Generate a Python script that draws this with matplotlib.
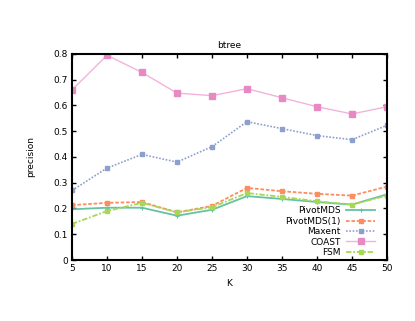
import matplotlib
matplotlib.use("Agg")
import matplotlib.pyplot as plt

K = [5, 10, 15, 20, 25, 30, 35, 40, 45, 50]

pivotmds = [0.197, 0.203, 0.203, 0.172, 0.195, 0.248, 0.237, 0.225, 0.215, 0.255]
pivotmds1 = [0.213, 0.222, 0.225, 0.185, 0.210, 0.280, 0.267, 0.257, 0.250, 0.285]
maxent = [0.270, 0.357, 0.410, 0.380, 0.440, 0.537, 0.510, 0.483, 0.467, 0.523]
coast = [0.660, 0.795, 0.728, 0.648, 0.638, 0.665, 0.630, 0.595, 0.567, 0.595]
fsm = [0.140, 0.190, 0.222, 0.185, 0.205, 0.260, 0.245, 0.228, 0.215, 0.250]

plt.rcParams['font.family'] = ['DejaVu Sans']
plt.rcParams['font.size'] = 6.5

fig = plt.figure(figsize=(4.15, 3.21), dpi=100)
ax = fig.add_axes([0.1735, 0.19, 0.759, 0.642])

ax.plot(K, pivotmds, color="#66c2a5", lw=1.3, ls="-", marker="+", ms=3, mew=0.8, label="PivotMDS")
ax.plot(K, pivotmds1, color="#fc8d62", lw=1.3, ls=(0, (2, 1)), marker="s", ms=2.5, label="PivotMDS(1)")
ax.plot(K, maxent, color="#8da0cb", lw=1.2, ls=(0, (1, 1)), marker="s", ms=2.5, label="Maxent")
ax.plot(K, coast, color="#f3b3dc", lw=1.0, ls="-", marker="s", ms=4.5, mfc="#e78ac3", mec="#e78ac3", label="COAST")
ax.plot(K, fsm, color="#a6d854", lw=1.3, ls=(0, (3, 1, 1, 1)), marker="s", ms=2.5, label="FSM")

ax.set_xlim(5, 50)
ax.set_ylim(0, 0.8)
ax.set_xticks(K)
ax.set_yticks([0, 0.1, 0.2, 0.3, 0.4, 0.5, 0.6, 0.7, 0.8])
ax.set_yticklabels(["0", "0.1", "0.2", "0.3", "0.4", "0.5", "0.6", "0.7", "0.8"])
ax.tick_params(direction="in", top=True, right=True, length=3, width=1, pad=3)
for s in ax.spines.values():
    s.set_linewidth(1.5)

ax.set_xlabel("K", labelpad=4)
ax.set_ylabel("precision", labelpad=13)
ax.set_title("btree", fontsize=6.5, pad=4)

ax.legend(loc="lower right", bbox_to_anchor=(0.985, -0.02), frameon=False, markerfirst=False,
          handlelength=3.2, handletextpad=0.6, labelspacing=0.15, borderpad=0.3)

fig.savefig("out.png", dpi=100)
